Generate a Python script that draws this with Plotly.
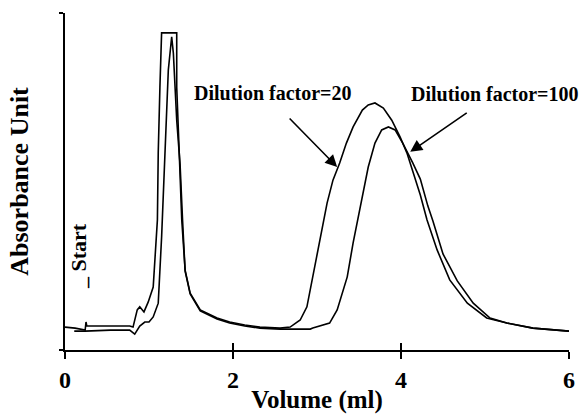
import plotly.graph_objects as go

# Volume (ml) and absorbance (arbitrary units, % of full scale)
vol_df20 = [0.00, 0.12, 0.24, 0.25, 0.26, 0.54, 0.77, 0.81, 0.86, 0.89, 0.94, 0.99, 1.05, 1.10,
            1.11, 1.13, 1.15, 1.33, 1.33, 1.36, 1.39, 1.43, 1.49, 1.61, 1.81, 1.96, 2.14, 2.32,
            2.56, 2.68, 2.80, 2.88, 2.95, 3.04, 3.12, 3.19, 3.27, 3.35, 3.43, 3.54, 3.61, 3.69,
            3.79, 3.89, 3.99, 4.07, 4.14, 4.23, 4.31, 4.43, 4.58, 4.79, 5.02, 5.26, 5.57, 6.00]
abs_df20 = [6.8, 6.5, 5.9, 8.3, 7.1, 7.1, 7.1, 6.8, 11.9, 12.8, 11.3, 14.2, 18.7, 38.6,
            58.5, 78.0, 94.1, 94.1, 78.0, 58.5, 38.6, 23.7, 16.9, 11.9, 9.5, 8.3, 7.4, 6.8,
            6.5, 6.8, 8.9, 12.8, 21.7, 32.6, 43.6, 50.4, 55.5, 61.4, 66.2, 71.2, 72.7, 73.3,
            71.8, 68.2, 63.2, 58.5, 52.8, 46.0, 38.6, 29.7, 20.8, 13.9, 9.5, 8.0, 6.5, 5.6]

vol_df100 = [0.11, 0.24, 0.54, 0.77, 0.83, 0.89, 0.95, 1.00, 1.05, 1.11, 1.15, 1.19, 1.23, 1.27,
             1.29, 1.33, 1.37, 1.40, 1.43, 1.49, 1.61, 1.81, 1.96, 2.14, 2.32, 2.56, 2.92, 2.95,
             3.15, 3.24, 3.36, 3.43, 3.54, 3.61, 3.69, 3.77, 3.85, 3.93, 4.02, 4.10, 4.14, 4.23,
             4.32, 4.38, 4.50, 4.67, 4.86, 5.06, 5.26, 5.57, 6.00]
abs_df100 = [5.6, 5.6, 5.9, 5.9, 4.7, 7.1, 8.3, 8.3, 9.8, 13.9, 33.5, 58.5, 83.1, 92.9,
             88.1, 68.2, 55.0, 38.3, 23.4, 16.6, 11.6, 9.2, 8.0, 7.1, 6.5, 6.2, 6.2, 6.5,
             8.0, 11.9, 21.7, 31.8, 45.4, 54.3, 61.4, 65.3, 66.2, 65.3, 61.4, 57.6, 55.5, 50.7,
             42.7, 38.3, 28.5, 20.5, 13.9, 9.5, 8.0, 6.5, 5.6]

x_ticks = [0, 2, 4, 6]
x_tick_labels = ["<b>0</b>", "<b>2</b>", "<b>4</b>", "<b>6</b>"]
y_ticks = [0, 100]

FONT = "Liberation Serif"

fig = go.Figure()
fig.add_trace(go.Scatter(x=vol_df20, y=abs_df20, mode="lines", name="Dilution factor=20",
                         line=dict(color="black", width=1.6)))
fig.add_trace(go.Scatter(x=vol_df100, y=abs_df100, mode="lines", name="Dilution factor=100",
                         line=dict(color="black", width=1.6)))
# invisible trace to activate overlay axes for crossing ticks
fig.add_trace(go.Scatter(x=[0], y=[0], xaxis="x2", yaxis="y2", mode="markers",
                         marker=dict(opacity=0), showlegend=False, hoverinfo="skip"))

fig.update_layout(
    width=584, height=414,
    margin=dict(l=65, r=15, t=13, b=64, autoexpand=False),
    paper_bgcolor="white", plot_bgcolor="white",
    showlegend=False,
    font=dict(family=FONT, color="black"),
    xaxis=dict(range=[0, 6], tickvals=x_ticks, ticktext=x_tick_labels, automargin=False,
               ticks="outside", ticklen=7, tickwidth=1.5, tickcolor="black",
               showline=True, linecolor="black", linewidth=1.5, showgrid=False, zeroline=False,
               tickfont=dict(family=FONT, size=24, color="black"),
               ticklabelstandoff=0,
               title=dict(text="<b>Volume (ml)</b>", font=dict(family=FONT, size=25, color="black"),
                          standoff=0)),
    yaxis=dict(range=[0, 100], tickvals=y_ticks, showticklabels=False, automargin=False,
               ticks="outside", ticklen=4, tickwidth=1.5, tickcolor="black",
               showline=True, linecolor="black", linewidth=1.5, showgrid=False, zeroline=False,
               title=dict(text="<b>Absorbance Unit</b>", font=dict(family=FONT, size=26, color="black"),
                          standoff=23)),
    xaxis2=dict(range=[0, 6], tickvals=x_ticks, showticklabels=False, overlaying="x",
                ticks="inside", ticklen=7, tickwidth=1.5, tickcolor="black",
                showline=False, showgrid=False, zeroline=False),
    yaxis2=dict(range=[0, 100], tickvals=y_ticks, showticklabels=False, overlaying="y",
                ticks="inside", ticklen=4, tickwidth=1.5, tickcolor="black",
                showline=False, showgrid=False, zeroline=False),
)

annot_font = dict(family=FONT, size=20, color="black")
fig.add_annotation(x=2.48, y=76.4, text="<b>Dilution factor=20</b>", showarrow=False, font=annot_font)
fig.add_annotation(x=5.12, y=75.9, text="<b>Dilution factor=100</b>", showarrow=False, font=annot_font)
fig.add_annotation(x=3.24, y=54.3, ax=-49, ay=-50, text="", showarrow=True,
                   arrowhead=2, arrowsize=1.5, arrowwidth=1.6, arrowcolor="black")
fig.add_annotation(x=4.11, y=58.8, ax=58, ay=-40, text="", showarrow=True,
                   arrowhead=2, arrowsize=1.5, arrowwidth=1.6, arrowcolor="black")
fig.add_annotation(x=0.16, y=28.0, text="<b>_\u00a0Start</b>", textangle=-90, showarrow=False,
                   font=dict(family=FONT, size=22, color="black"))

fig.write_html("out.html")
